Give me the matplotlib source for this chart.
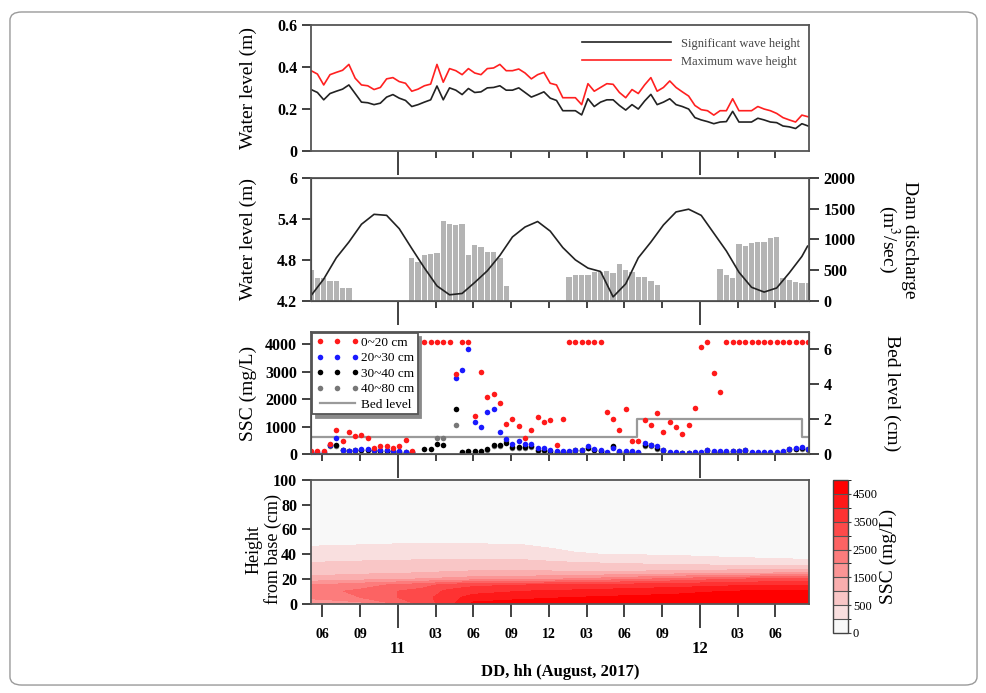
import numpy as np
import matplotlib
matplotlib.use('Agg')
import matplotlib.pyplot as plt
from matplotlib.colors import LinearSegmentedColormap, BoundaryNorm
from matplotlib.patches import FancyBboxPatch

plt.rcParams['font.family'] = ['Liberation Serif', 'DejaVu Serif']
plt.rcParams['mathtext.fontset'] = 'stix'

# half-hourly record, hours counted from 00 h on 11 August
hours = 5.1 + 0.5 * np.arange(80)

sig_wave = [0.292, 0.278, 0.243, 0.273, 0.284, 0.294, 0.314, 0.273, 0.232, 0.229,
            0.220, 0.227, 0.256, 0.268, 0.251, 0.240, 0.211, 0.220, 0.232, 0.243,
            0.309, 0.243, 0.300, 0.289, 0.268, 0.297, 0.278, 0.281, 0.300, 0.302,
            0.310, 0.289, 0.289, 0.300, 0.278, 0.256, 0.268, 0.281, 0.251, 0.240,
            0.191, 0.191, 0.191, 0.171, 0.248, 0.211, 0.232, 0.243, 0.243, 0.216,
            0.194, 0.220, 0.199, 0.237, 0.269, 0.220, 0.232, 0.248, 0.220, 0.211,
            0.199, 0.158, 0.147, 0.139, 0.129, 0.137, 0.139, 0.188, 0.137, 0.137,
            0.137, 0.155, 0.147, 0.137, 0.134, 0.118, 0.114, 0.106, 0.129, 0.118]
max_wave = [0.382, 0.366, 0.314, 0.363, 0.374, 0.384, 0.412, 0.346, 0.314, 0.310,
            0.292, 0.302, 0.343, 0.349, 0.330, 0.322, 0.284, 0.294, 0.310, 0.318,
            0.412, 0.327, 0.392, 0.382, 0.363, 0.392, 0.371, 0.363, 0.392, 0.395,
            0.412, 0.382, 0.382, 0.390, 0.371, 0.343, 0.363, 0.374, 0.322, 0.314,
            0.253, 0.253, 0.253, 0.220, 0.320, 0.284, 0.302, 0.320, 0.317, 0.278,
            0.253, 0.292, 0.273, 0.314, 0.349, 0.284, 0.302, 0.333, 0.302, 0.281,
            0.261, 0.216, 0.196, 0.191, 0.170, 0.191, 0.191, 0.248, 0.191, 0.191,
            0.191, 0.211, 0.199, 0.191, 0.178, 0.158, 0.147, 0.137, 0.170, 0.162]

discharge = [503, 378, 378, 324, 324, 205, 205, 0, 0, 0,
             0, 0, 0, 0, 0, 0, 700, 640, 746, 760,
             780, 1300, 1243, 1230, 1250, 750, 900, 880, 800, 790,
             700, 250, 0, 0, 0, 0, 0, 0, 0, 0,
             0, 395, 422, 422, 422, 476, 476, 486, 459, 595,
             503, 476, 395, 395, 324, 260, 0, 0, 0, 0,
             0, 0, 0, 0, 0, 519, 422, 368, 924, 897,
             935, 962, 962, 1016, 1043, 378, 340, 303, 286, 286]

# hourly water level
wl_hours = list(5.1 + np.arange(40)) + [44.55]
water_level = [4.28, 4.52, 4.83, 5.06, 5.32, 5.465, 5.45, 5.256, 4.966, 4.683,
               4.42, 4.29, 4.31, 4.47, 4.64, 4.865, 5.135, 5.28, 5.36, 5.22,
               4.98, 4.80, 4.68, 4.63, 4.26, 4.45, 4.83, 5.06, 5.31, 5.50,
               5.54, 5.45, 5.19, 4.93, 4.62, 4.40, 4.33, 4.39, 4.61, 4.85, 5.0]

nan = np.nan
ssc_0_20 = [120, 120, 120, 384, 900, 480, 804, 660, 708, 588,
            240, 300, 300, 240, 324, 540, 120, 4070, 4070, 4070,
            4070, 4070, 4070, 2916, 4070, 4070, 1380, 3000, 2100, 2196,
            1884, 1116, 1284, 1020, 588, 900, 1344, 1164, 1260, 360,
            1284, 4070, 4070, 4070, 4070, 4070, 4070, 1560, 1284, 900,
            1656, 480, 480, 1260, 1080, 1524, 804, 1164, 984, 756,
            1080, 1704, 3900, 4070, 2964, 2280, 4070, 4070, 4070, 4070,
            4070, 4070, 4070, 4070, 4070, 4070, 4070, 4070, 4070, 4070]
ssc_20_30 = [84, 84, 84, 336, 600, 150, 144, 180, 204, 204,
             180, 156, 156, 144, 120, 96, 96, nan, nan, nan,
             nan, nan, nan, 2784, 3084, 3840, 1164, 984, 1560, 1656,
             804, 576, 384, 504, 396, 396, 228, 240, 156, 120,
             120, 120, 180, 180, 300, 204, 156, 84, 240, 120,
             120, 120, 84, 420, 360, 300, 180, 84, 84, 60,
             60, 84, 84, 180, 120, 120, 120, 120, 120, 180,
             84, 84, 84, 84, 84, 120, 216, 240, 264, 216]
ssc_30_40 = [60, 60, 60, 360, 360, 180, 130, 150, 170, 170,
             150, 130, 130, 120, 100, 80, 80, nan, 216, 216,
             384, 360, nan, 1656, 96, 120, 120, 120, 204, 348,
             348, 420, 276, 276, 276, 300, 156, 156, 110, 90,
             90, 90, 150, 150, 250, 180, 130, 70, 324, 100,
             100, 100, 70, 360, 340, 240, 150, 70, 70, 50,
             50, 70, 70, 150, 100, 100, 100, 110, 110, 150,
             70, 70, 70, 70, 70, 100, 190, 210, 230, 190]
ssc_40_80 = [50, 50, 50, 300, 300, 150, 110, 130, 150, 150,
             130, 110, 110, 100, 90, 70, 70, nan, nan, nan,
             588, 588, nan, 1080, 80, 100, 100, 100, 180, 300,
             300, 480, 240, 240, 240, 260, 140, 140, 100, 80,
             80, 80, 130, 130, 220, 160, 110, 60, 280, 90,
             90, 90, 60, 320, 300, 200, 130, 60, 60, 40,
             40, 60, 60, 130, 90, 90, 90, 100, 100, 130,
             60, 60, 60, 60, 60, 90, 170, 190, 210, 170]

bed_hours = [5.09, 31.0, 44.1, 44.67]
bed_level = [1, 2, 1, 1]

# SSC profile (mg/L): one row per time, one column per height
prof_hours = [5.1, 9, 12, 14, 16, 18, 22, 26, 30, 34, 38, 44.7]
prof_heights = [0, 5, 10, 15, 20, 25, 30, 35, 40, 45, 50, 60, 100]
prof_ssc = [
    [1300, 2200, 2300, 2000, 1200, 800, 600, 450, 250, 120, 50, 0, 0],
    [1800, 2500, 2600, 2300, 1300, 900, 650, 480, 280, 140, 60, 0, 0],
    [2600, 3000, 3000, 2600, 1400, 950, 700, 500, 300, 160, 70, 0, 0],
    [3200, 3300, 3200, 2800, 1500, 1000, 720, 520, 320, 170, 80, 0, 0],
    [3800, 3800, 3600, 3200, 1600, 1050, 750, 540, 330, 180, 80, 0, 0],
    [4600, 4200, 3800, 3400, 1700, 1100, 760, 540, 330, 170, 70, 0, 0],
    [4700, 4400, 4000, 3500, 1800, 1100, 760, 520, 300, 140, 60, 0, 0],
    [4800, 4500, 4100, 3600, 2000, 1100, 700, 400, 120, 60, 30, 0, 0],
    [4900, 4600, 4200, 3700, 2300, 1100, 650, 330, 80, 40, 20, 0, 0],
    [4900, 4700, 4300, 3800, 2600, 1200, 600, 250, 60, 30, 0, 0, 0],
    [4950, 4800, 4500, 3900, 2900, 1300, 600, 150, 50, 20, 0, 0, 0],
    [4950, 4900, 4600, 4000, 3200, 1500, 600, 110, 40, 10, 0, 0, 0],
]
ssc_levels = [0, 100, 500, 1000, 1500, 2000, 2500, 3000, 3500, 4000, 4500, 5000]
cbar_ticks = [0, 500, 1500, 2500, 3500, 4500]

hour_ticks = [6, 9, 15, 18, 21, 24, 27, 30, 33, 39, 42]
hour_labels = ['06', '09', '03', '06', '09', '12', '03', '06', '09', '03', '06']
day_ticks = [12, 36]
day_labels = ['11', '12']

fig = plt.figure(figsize=(9.87, 6.93), dpi=100)
L, W = 0.3151, 0.5046
ax1 = fig.add_axes([L, 0.7825, W, 0.1814])
ax2 = fig.add_axes([L, 0.5657, W, 0.1779])
ax3 = fig.add_axes([L, 0.3442, W, 0.1768])
ax4 = fig.add_axes([L, 0.1291, W, 0.1782])
cax = fig.add_axes([0.844, 0.0866, 0.0152, 0.2208])

fig.patches.append(FancyBboxPatch((0.0101, 0.0115), 0.9798, 0.9712,
                                  boxstyle='round,pad=0,rounding_size=0.012',
                                  transform=fig.transFigure, fc='none',
                                  ec='#9a9a9a', lw=1.0))

YL = -0.108


def frame(ax, first, short=5.2, long=17.5):
    ax.set_xlim(5.09, 44.67)
    for s in ax.spines.values():
        s.set_color('#555555')
        s.set_linewidth(1.3)
    ax.set_xticks(hour_ticks[first:])
    ax.set_xticks(day_ticks, minor=True)
    ax.tick_params(axis='x', which='major', direction='out', length=short,
                   width=1.3, color='#333333')
    ax.tick_params(axis='x', which='minor', direction='out', length=long,
                   width=1.3, color='#333333')
    ax.tick_params(axis='y', direction='out', length=6.5, width=1.3,
                   color='#333333', labelsize=11.5)


# --- panel 1: wave heights
frame(ax1, 2)
ax1.tick_params(axis='x', which='both', labelbottom=False)
ax1.plot(hours, sig_wave, color='#222222', lw=1.2, label='Significant wave height')
ax1.plot(hours, max_wave, color='#ff2020', lw=1.2, label='Maximum wave height')
ax1.set_ylim(0, 0.6)
ax1.set_yticks([0, 0.2, 0.4, 0.6], ['0', '0.2', '0.4', '0.6'], fontweight='bold')
ax1.set_ylabel('Water level (m)', fontsize=14)
ax1.yaxis.set_label_coords(YL, 0.5)
ax1.legend(loc='upper right', bbox_to_anchor=(0.995, 0.95), frameon=False,
           fontsize=9, handlelength=7.1, handletextpad=0.8, labelspacing=0.5,
           labelcolor='#444444', borderpad=0.5, borderaxespad=0)

# --- panel 2: water level and dam discharge
ax2r = ax2.twinx()
frame(ax2, 2)
ax2.tick_params(axis='x', which='both', labelbottom=False)
ax2r.bar(hours, discharge, width=0.42, color='#b4b4b4', edgecolor='none')
ax2r.set_ylim(0, 2000)
ax2r.set_yticks([0, 500, 1000, 1500, 2000], ['0', '500', '1000', '1500', '2000'],
                fontweight='bold')
ax2r.tick_params(axis='y', direction='out', length=7, width=1.3,
                 color='#333333', labelsize=11.5)
ax2r.set_ylabel('Dam discharge\n(m$^3$/sec)', fontsize=14, rotation=270,
                linespacing=1.0)
ax2r.yaxis.set_label_coords(1.219, 0.5)
ax2.set_zorder(ax2r.get_zorder() + 1)
ax2.patch.set_visible(False)
ax2.plot(wl_hours, water_level, color='#222222', lw=1.2)
ax2.set_ylim(4.2, 6)
ax2.set_yticks([4.2, 4.8, 5.4, 6], ['4.2', '4.8', '5.4', '6'], fontweight='bold')
ax2.set_ylabel('Water level (m)', fontsize=14)
ax2.yaxis.set_label_coords(YL, 0.5)

# --- panel 3: SSC and bed level
ax3r = ax3.twinx()
frame(ax3, 0)
ax3.tick_params(axis='x', which='both', labelbottom=False)
bed_line, = ax3r.plot(bed_hours, bed_level, drawstyle='steps-post',
                      color='#9a9a9a', lw=1.6, label='Bed level')
ax3r.set_ylim(0, 6.95)
ax3r.set_yticks([0, 2, 4, 6], ['0', '2', '4', '6'], fontweight='bold')
ax3r.tick_params(axis='y', direction='out', length=7, width=1.3,
                 color='#333333', labelsize=11.5)
ax3r.set_ylabel('Bed level (cm)', fontsize=14, rotation=270)
ax3r.yaxis.set_label_coords(1.183, 0.5)
ax3.set_zorder(ax3r.get_zorder() + 1)
ax3.patch.set_visible(False)
series = [(ssc_40_80, '#777777', '40~80 cm'), (ssc_30_40, '#000000', '30~40 cm'),
          (ssc_20_30, '#1a1aff', '20~30 cm'), (ssc_0_20, '#ff1a1a', '0~20 cm')]
handles = {}
for vals, col, lab in series:
    h, = ax3.plot(hours, vals, ls='none', marker='o', ms=4.0, color=col,
                  markeredgewidth=0, label=lab)
    handles[lab] = h
ax3.set_ylim(0, 4450)
ax3.set_yticks([0, 1000, 2000, 3000, 4000], ['0', '1000', '2000', '3000', '4000'],
               fontweight='bold')
ax3.set_ylabel('SSC (mg/L)', fontsize=14)
ax3.yaxis.set_label_coords(YL, 0.5)
leg = ax3.legend([handles['0~20 cm'], handles['20~30 cm'], handles['30~40 cm'],
                  handles['40~80 cm'], bed_line],
                 ['0~20 cm', '20~30 cm', '30~40 cm', '40~80 cm', 'Bed level'],
                 loc='upper left', numpoints=3, fontsize=9.5, labelspacing=0.25,
                 borderpad=0.25, handlelength=3.3, handletextpad=0.15,
                 borderaxespad=0.1, fancybox=False, framealpha=1,
                 edgecolor='#555555',
                 shadow={'color': '#8a8a8a', 'alpha': 1, 'ox': 2.5, 'oy': -2.5})
leg.get_frame().set_linewidth(1.3)

# --- panel 4: SSC profile
frame(ax4, 0, short=9, long=17.5)
cmap = LinearSegmentedColormap.from_list('wr', ['#f8f8f8', '#ff0000'],
                                         N=len(ssc_levels) - 1)
norm = BoundaryNorm(ssc_levels, cmap.N)
T, Z = np.meshgrid(prof_hours, prof_heights)
cf = ax4.contourf(T, Z, np.array(prof_ssc).T, levels=ssc_levels, cmap=cmap,
                  norm=norm)
ax4.set_ylim(0, 100)
ax4.set_yticks([0, 20, 40, 60, 80, 100], ['0', '20', '40', '60', '80', '100'],
               fontweight='bold')
ax4.set_ylabel('Height\nfrom base (cm)', fontsize=13, linespacing=1.1)
ax4.yaxis.set_label_coords(-0.058, 0.44)
ax4.set_xticklabels(hour_labels, fontsize=10, fontweight='bold')
ax4.set_xticklabels(day_labels, minor=True, fontsize=12, fontweight='bold')
ax4.tick_params(axis='x', which='major', pad=8.8)
ax4.tick_params(axis='x', which='minor', pad=9.6)
ax4.set_xlabel('DD, hh (August, 2017)', fontsize=12, fontweight='bold', labelpad=5)

cb = fig.colorbar(cf, cax=cax, ticks=cbar_ticks, drawedges=True)
cb.ax.set_yticklabels([str(v) for v in cbar_ticks], fontsize=9)
cb.ax.tick_params(length=2.5, width=0.8, color='#444444', pad=1)
cb.outline.set_edgecolor('#444444')
cb.outline.set_linewidth(1.0)
cb.dividers.set_color('#555555')
cb.dividers.set_linewidth(0.8)
cb.set_label('SSC (mg/L)', fontsize=14)
cb.ax.yaxis.set_label_coords(3.1, 0.5)

fig.savefig('out.png', dpi=100)
